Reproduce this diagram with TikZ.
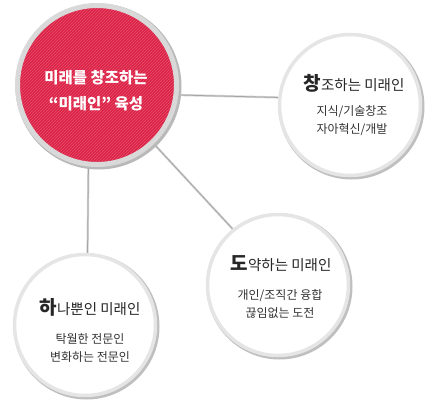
\documentclass[tikz,border=0pt]{standalone}
\usepackage{fontspec}
\setmainfont{Noto Sans CJK KR}
\usetikzlibrary{patterns,backgrounds}
\definecolor{crim}{HTML}{DA2347}
\definecolor{crimd}{HTML}{E9506D}
\begin{document}
\begin{tikzpicture}[x=1pt,y=-1pt,
  ring/.style={circle, draw=gray!20, line width=3.5pt, fill=white, minimum size=141pt, inner sep=0pt},
  shad/.style={circle, fill=gray!50, minimum size=146pt, inner sep=0pt},
  redc/.style={circle, draw=gray!30, line width=5pt, preaction={fill=crim}, pattern=north east lines, pattern color=crimd, minimum size=159pt, inner sep=0pt},
  redshad/.style={circle, fill=gray!55, minimum size=166pt, inner sep=0pt},
  conn/.style={draw=gray!35, line width=2.2pt},
  connin/.style={draw=gray!70, line width=0.8pt},
  head/.style={font=\fontsize{14.5}{16}\selectfont, text=black!85, inner sep=0pt},
  bigc/.style={font=\fontsize{19}{19}\selectfont\bfseries},
  sub/.style={font=\fontsize{12}{18}\selectfont, text=black!80, align=center, inner sep=0pt},
  redtxt/.style={font=\fontsize{15.5}{17}\selectfont\bfseries, text=white, inner sep=0pt}]
\useasboundingbox (0,0) rectangle (431,404);
% shadows
\node[redshad] (rs) at (98.5,86.5) {};
\node[shad] (cs1) at (351.5,106.5) {};
\node[shad] (cs2) at (279.5,286.5) {};
\node[shad] (cs3) at (86.5,326.5) {};
% circles
\node[redc] (red) at (97,85) {};
\node[ring] (chang) at (350,105) {};
\node[ring] (do) at (278,285) {};
\node[ring] (ha) at (85,325) {};
% connectors
\begin{scope}[on background layer]
\draw[conn] (red.-7) -- (chang.174);
\draw[connin] (red.-7) -- (chang.174);
\draw[conn] (red.-46) -- (do.129);
\draw[connin] (red.-46) -- (do.129);
\draw[conn] (red.-96) -- (ha.88);
\draw[connin] (red.-96) -- (ha.88);
\end{scope}
% texts
\node[redtxt] (r1) at (96,78) {미래를 창조하는};
\node[redtxt] (r2) at (96,104) {“미래인” 육성};
\node[head] (h1) at (354,83) {{\tikzset{}\fontsize{19}{19}\selectfont\bfseries 창}조하는 미래인};
\node[sub] (s1) at (352,121) {지식/기술창조\\자아혁신/개발};
\node[head] (h2) at (281,264) {{\fontsize{19}{19}\selectfont\bfseries 도}약하는 미래인};
\node[sub] (s2) at (280,304) {개인/조직간 융합\\끊임없는 도전};
\node[head] (h3) at (90,307) {{\fontsize{19}{19}\selectfont\bfseries 하}나뿐인 미래인};
\node[sub] (s3) at (90,348) {탁월한 전문인\\변화하는 전문인};
\end{tikzpicture}
\end{document}
